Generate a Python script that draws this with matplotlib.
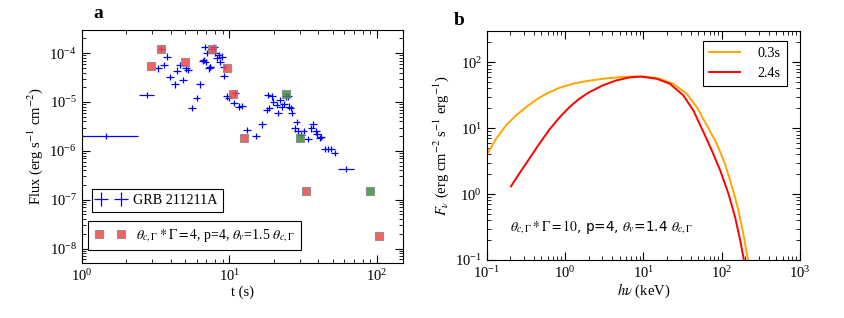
import numpy as np
import matplotlib
matplotlib.use("Agg")
import matplotlib.pyplot as plt

plt.rcParams["font.family"] = ["Liberation Serif", "DejaVu Serif"]
plt.rcParams["mathtext.fontset"] = "stix"

# ---- panel a: GRB 211211A light curve ----
t_obs = [1.47, 2.77, 3.3, 3.44, 3.62, 3.77, 3.97, 4.27, 4.45, 4.63, 4.85, 5.08,
         5.25, 5.61, 6.0, 6.31, 6.6, 6.7, 6.79, 6.9, 7.08, 7.26, 7.38, 7.45, 7.65,
         7.85, 8.05, 8.26, 8.47, 8.7, 8.93, 9.16, 9.25, 9.66, 10.0, 10.8, 10.97,
         11.55, 12.2, 13.2, 15.1, 16.7, 17.9, 18.2, 18.7, 19.4, 19.9, 20.9, 21.5,
         22.0, 22.6, 23.4, 24.2, 25.1, 25.4, 26.0, 26.4, 27.8, 28.5, 29.3, 30.8,
         31.9, 34.1, 36.0, 36.9, 38.5, 39.3, 40.9, 42.0, 44.2, 46.5, 49.0, 51.6,
         61.8]
flux_obs = [2.0e-6, 1.4e-5, 4.9e-5, 1.24e-4, 5.8e-5, 8.5e-5, 3.3e-5, 2.3e-5,
            4.4e-5, 5.7e-5, 2.85e-5, 4.9e-5, 4.6e-5, 7.6e-6, 1.2e-5, 2.3e-5,
            7.0e-5, 7.3e-5, 1.36e-4, 6.7e-5, 1.0e-4, 4.9e-5, 5.2e-5, 5.3e-5,
            1.2e-4, 1.36e-4, 1.0e-4, 7.9e-5, 9.2e-5, 6.7e-5, 8.5e-5, 5.3e-5,
            3.45e-5, 1.3e-5, 1.2e-5, 9.5e-6, 1.55e-5, 8.1e-6, 8.4e-6, 2.7e-6,
            2.0e-6, 3.5e-6, 6.9e-6, 1.4e-5, 7.5e-6, 1.3e-5, 1.02e-5, 8.8e-6,
            6.0e-6, 1.1e-5, 8.1e-6, 9.2e-6, 1.3e-5, 1.3e-5, 8.1e-6, 7.5e-6,
            6.0e-6, 2.9e-6, 3.85e-6, 2.5e-6, 2.15e-6, 2.5e-6, 1.76e-6, 2.9e-6,
            3.5e-6, 2.5e-6, 2.2e-6, 1.84e-6, 1.9e-6, 1.1e-6, 1.1e-6, 1.1e-6,
            9.1e-7, 4.3e-7]
# time bins that are wider than the usual ones: index -> (start, end)
wide_bins = {0: (1.0, 2.42), 1: (2.45, 3.1), 73: (54.6, 69.8)}

t_red = [2.93, 3.44, 5.04, 7.57, 9.66, 10.6, 12.6, 32.8, 102.5]
flux_red = [5.5e-5, 1.24e-4, 6.6e-5, 1.2e-4, 4.9e-5, 1.45e-5, 1.84e-6, 1.5e-7, 1.8e-8]
t_green = [24.1, 30.0, 90.2]
flux_green = [1.45e-5, 1.84e-6, 1.5e-7]

# ---- panel b: spectra ----
e_03 = [0.1, 0.103, 0.1316, 0.176, 0.237, 0.318, 0.427, 0.572, 0.847, 1.25,
        1.85, 3.03, 4.94, 8.07, 12.0, 16.3, 24.2, 35.8, 48.1, 64.6, 86.5, 110,
        128, 148, 163, 189, 213, 225]
f_03 = [3.95, 4.18, 6.9, 11.0, 15.6, 20.8, 26.9, 33.2, 40.9, 46.9, 51.5, 56.0,
        59.3, 61.0, 59.5, 56.0, 46.9, 33.2, 20.8, 11.0, 5.8, 2.89, 1.61, 0.90,
        0.57, 0.25, 0.111, 0.08]
e_24 = [0.204, 0.26, 0.35, 0.47, 0.631, 0.846, 1.135, 1.52, 2.04, 3.03, 4.48,
        6.62, 9.3, 14.8, 21.9, 32.4, 43.5, 58.5, 74.7, 95.5, 122, 148, 172, 189,
        198]
f_24 = [1.31, 2.04, 3.44, 5.8, 9.5, 14.4, 20.8, 27.9, 35.1, 44.4, 52.8, 58.6,
        60.5, 56.0, 46.9, 31.3, 18.5, 8.7, 4.6, 2.29, 1.01, 0.45, 0.20, 0.111,
        0.08]


def style_axis(ax):
    ax.set_xscale("log")
    ax.set_yscale("log")
    ax.tick_params(which="both", direction="in", top=True, right=True,
                   labelsize=10.5)
    ax.tick_params(which="major", length=6)
    ax.tick_params(which="minor", length=3)


fig = plt.figure(figsize=(8.44, 3.18), dpi=100)

# panel a
ax1 = fig.add_axes([0.0968, 0.172, 0.3807, 0.734])
style_axis(ax1)

t = np.array(t_obs)
f = np.array(flux_obs)
xlo = t * 0.06
xhi = t * 0.06
for i, (a, b) in wide_bins.items():
    xlo[i] = t[i] - a
    xhi[i] = b - t[i]
ylo = f * 0.14
yhi = f * 0.16

obs = ax1.errorbar(t, f, xerr=[xlo, xhi], yerr=[ylo, yhi], fmt="none",
                   ecolor="blue", elinewidth=0.9, capsize=0)
model, = ax1.plot(t_red, flux_red, "s", color="#f24848", markersize=6,
                  markeredgecolor="#888888", markeredgewidth=0.8, alpha=0.85)
ax1.plot(t_green, flux_green, "s", color="#3f8f3a", markersize=6,
         markeredgecolor="#888888", markeredgewidth=0.8, alpha=0.85)

ax1.set_xlim(1, 150)
ax1.set_ylim(5e-9, 3e-4)
ax1.set_xlabel("t (s)", fontsize=10.5, labelpad=1)
ax1.set_ylabel(r"Flux (erg s$^{-1}$ cm$^{-2}$)", fontsize=10.5, labelpad=3)

leg1 = ax1.legend([obs], ["GRB 211211A"], loc="lower left",
                  bbox_to_anchor=(0.031, 0.219), borderaxespad=0, numpoints=2,
                  fancybox=False, edgecolor="black", framealpha=1,
                  fontsize=10.2, handlelength=2.0, handletextpad=0.6,
                  borderpad=0.35)
leg1.get_frame().set_linewidth(0.8)
ax1.add_artist(leg1)
leg2 = ax1.legend([model],
                  [r"$\theta_{c,\Gamma}*\Gamma=4$, p=4, $\theta_v$=1.5 $\theta_{c,\Gamma}$"],
                  loc="lower left", bbox_to_anchor=(0.0205, 0.057),
                  borderaxespad=0, numpoints=2, fancybox=False,
                  edgecolor="black", framealpha=1, fontsize=10,
                  handlelength=2.2, handletextpad=0.8, borderpad=0.45)
leg2.get_frame().set_linewidth(0.8)

fig.text(0.116, 0.958, "a", fontsize=14, fontweight="bold", ha="center",
         va="center")

# panel b
ax2 = fig.add_axes([0.5767, 0.1824, 0.3712, 0.721])
style_axis(ax2)
ax2.plot(e_03, f_03, color="orange", linewidth=1.4, label="0.3s")
ax2.plot(e_24, f_24, color="red", linewidth=1.4, label="2.4s")
ax2.set_xlim(0.1, 1000)
ax2.set_ylim(0.1, 300)
ax2.set_xlabel(r"$h\nu$ (keV)", fontsize=10.5, labelpad=1)
ax2.set_ylabel(r"$F_\nu$ (erg cm$^{-2}$ s$^{-1}$ erg$^{-1}$)", fontsize=10.5,
               labelpad=3)
leg3 = ax2.legend(loc="upper right", bbox_to_anchor=(0.9575, 0.956),
                  borderaxespad=0, fancybox=False, edgecolor="black",
                  framealpha=1, fontsize=10.2, handlelength=2.2,
                  handletextpad=1.2, borderpad=0.45, labelspacing=0.45)
leg3.get_frame().set_linewidth(0.8)
ax2.text(0.074, 0.145,
         r"$\theta_{c,\Gamma}*\Gamma=10$, p=4, $\theta_v$=1.4 $\theta_{c,\Gamma}$",
         transform=ax2.transAxes, fontsize=9.8, family="DejaVu Sans",
         va="center")

fig.text(0.544, 0.937, "b", fontsize=14, fontweight="bold", ha="center",
         va="center")

fig.savefig("out.png", dpi=100)
